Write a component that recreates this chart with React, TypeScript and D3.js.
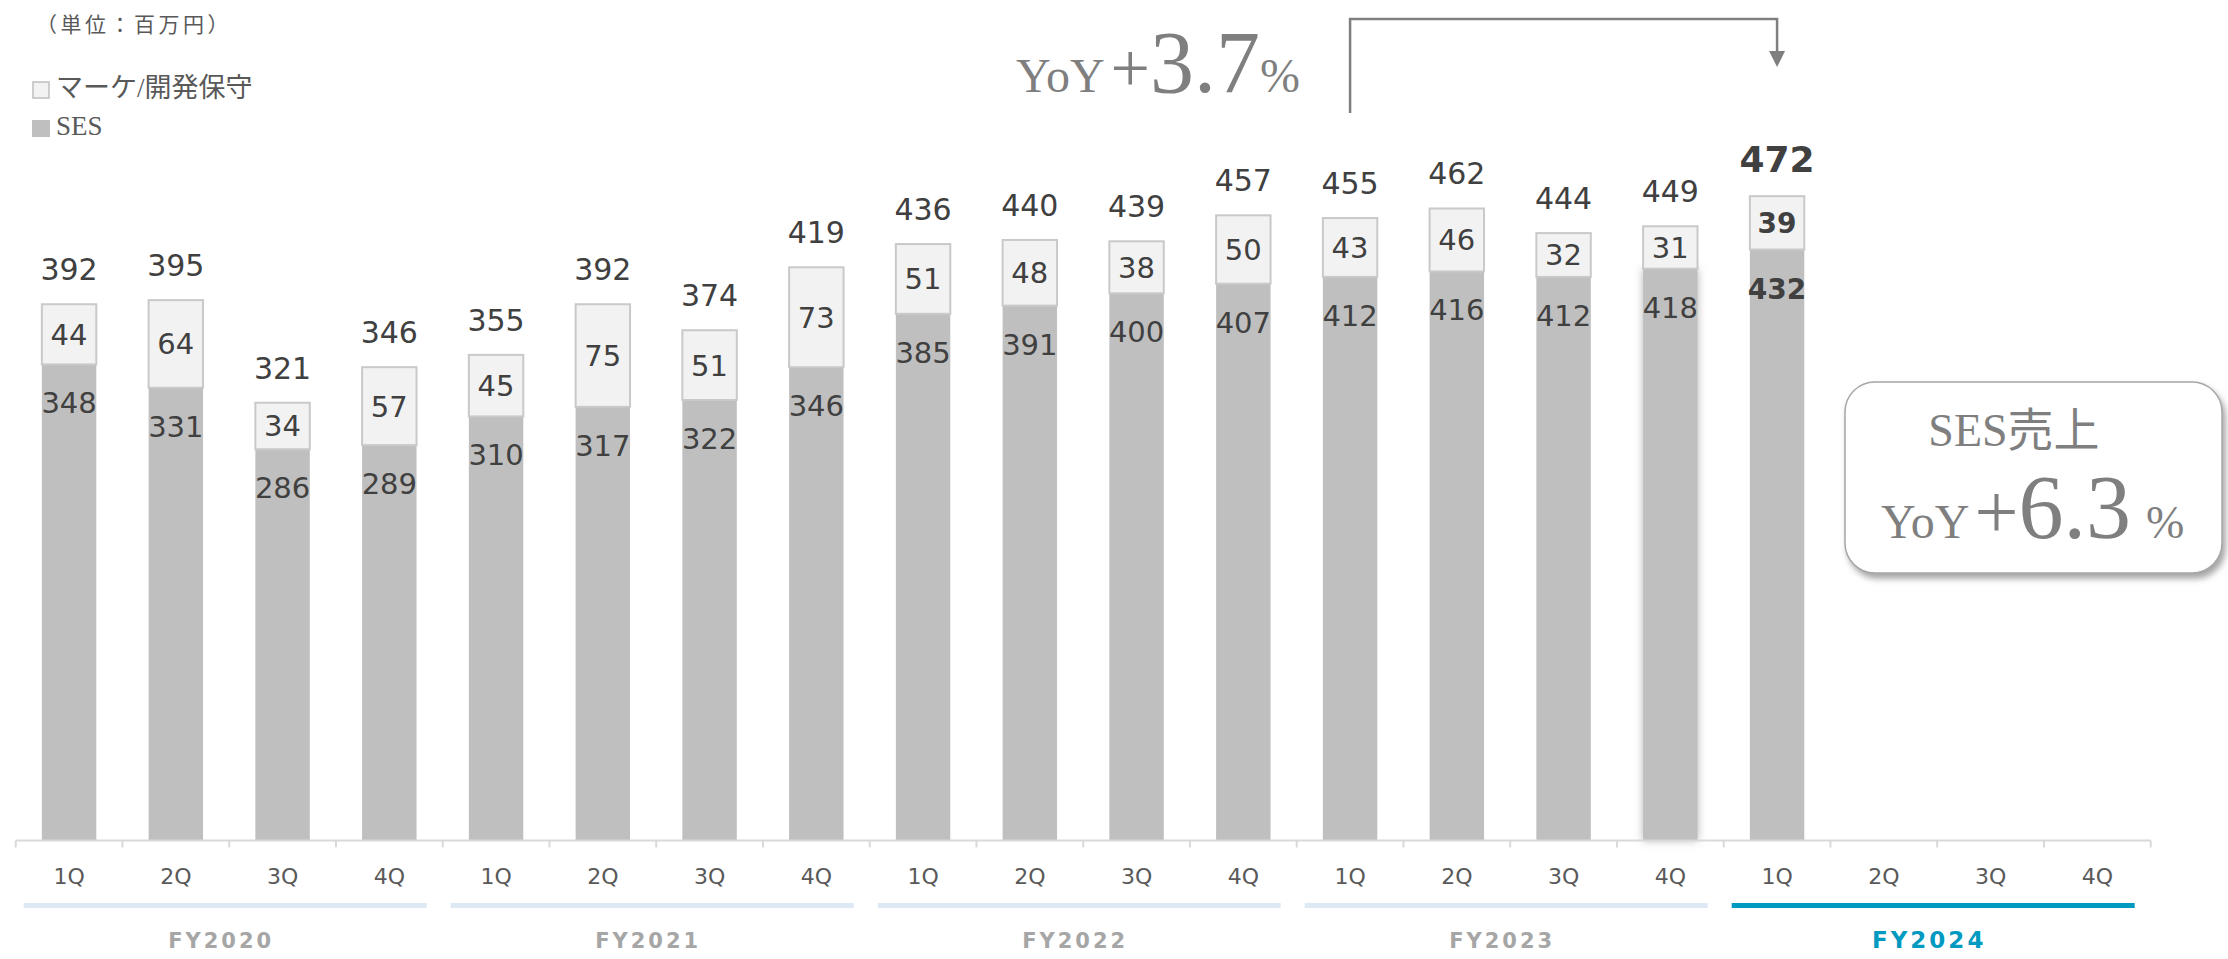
import React from "react";
import * as d3 from "d3";

const W = 2228;
const H = 959;

const years = ["FY2020", "FY2021", "FY2022", "FY2023", "FY2024"];
const quarters = ["1Q", "2Q", "3Q", "4Q"];
const sesValues: (number | null)[] = [348, 331, 286, 289, 310, 317, 322, 346, 385, 391, 400, 407, 412, 416, 412, 418, 432, null, null, null];
const otherValues: (number | null)[] = [44, 64, 34, 57, 45, 75, 51, 73, 51, 48, 38, 50, 43, 46, 32, 31, 39, null, null, null];
const totalLabels: (number | null)[] = [392, 395, 321, 346, 355, 392, 374, 419, 436, 440, 439, 457, 455, 462, 444, 449, 472, null, null, null];
const legendLabels = ["マーケ/開発保守", "SES"];
const unitLabel = "（単位：百万円）";
const yoyTotal = "3.7";
const yoySes = "6.3";

const categories = years.flatMap((y) => quarters.map((q) => `${y}-${q}`));
const highlightIndex = 16;
const glowIndex = 15;

const NUM_FONT = "'DejaVu Sans', Verdana, sans-serif";
const SERIF = "'Liberation Serif', 'Times New Roman', 'Noto Sans CJK JP', serif";
const TXT = "#404040";

export default function App() {
  const x0 = 15.7;
  const x1 = 2150.7;
  const baseY = 840.5;
  const x = d3.scaleBand<string>().domain(categories).range([x0, x1]).paddingInner(0.49).paddingOuter(0.245);
  const step = x.step();
  const y = d3.scaleLinear().domain([0, 600]).range([baseY, baseY - 600 * 1.368]);
  const cx = (i: number) => (x(categories[i]) as number) + x.bandwidth() / 2;

  const bracketL = cx(12);
  const bracketR = cx(16);

  return (
    <svg width={W} height={H} style={{ position: "absolute", left: 0, top: 0, background: "#fff" }}>
      <defs>
        <filter id="glow" x="-40%" y="-10%" width="180%" height="120%">
          <feDropShadow dx="0" dy="0" stdDeviation="4" floodColor="#808080" floodOpacity="0.6" />
        </filter>
        <filter id="boxShadow" x="-10%" y="-10%" width="130%" height="130%">
          <feDropShadow dx="3" dy="5" stdDeviation="3" floodColor="#7f7f7f" floodOpacity="0.7" />
        </filter>
      </defs>

      {/* unit label */}
      <text x={36} y={32} fontFamily="'Noto Sans CJK JP', sans-serif" fontSize={21} letterSpacing={3.5} fill="#595959">{unitLabel}</text>

      {/* legend */}
      <rect x={33} y={82} width={16} height={16} fill="#f2f2f2" stroke="#bfbfbf" strokeWidth={1.5} />
      <text x={56} y={97} fontFamily={SERIF} fontSize={27} fill="#595959">{legendLabels[0]}</text>
      <rect x={32} y={120} width={18} height={17} fill="#bfbfbf" />
      <text x={56} y={135} fontFamily={SERIF} fontSize={27} fill="#595959">{legendLabels[1]}</text>

      {/* bars */}
      {categories.map((c, i) => {
        const s = sesValues[i];
        const o = otherValues[i];
        if (s == null || o == null) return null;
        const bx = x(c) as number;
        const bw = x.bandwidth();
        const sesTop = y(s);
        const top = y(s + o);
        const bold = i === highlightIndex;
        return (
          <g key={c}>
            <rect x={bx} y={sesTop} width={bw} height={baseY - sesTop} fill="#bfbfbf" filter={i === glowIndex ? "url(#glow)" : undefined} />
            <rect x={bx} y={top} width={bw} height={sesTop - top} fill="#f2f2f2" stroke="#c9c9c9" strokeWidth={2} />
            <text x={cx(i)} y={(top + sesTop) / 2 + 10.5} textAnchor="middle" fontFamily={NUM_FONT} fontSize={bold ? 28 : 29} fontWeight={bold ? "bold" : "normal"} fill={TXT}>{o}</text>
            <text x={cx(i)} y={sesTop + 49} textAnchor="middle" fontFamily={NUM_FONT} fontSize={bold ? 28 : 29} fontWeight={bold ? "bold" : "normal"} fill={TXT}>{s}</text>
            <text x={cx(i)} y={top - 24} textAnchor="middle" fontFamily={NUM_FONT} fontSize={bold ? 36 : 30} fontWeight={bold ? "bold" : "normal"} fill={TXT}>{totalLabels[i]}</text>
          </g>
        );
      })}

      {/* axis */}
      <line x1={x0} x2={x1} y1={baseY} y2={baseY} stroke="#d9d9d9" strokeWidth={2} />
      {d3.range(categories.length + 1).map((i) => (
        <line key={"t" + i} x1={x0 + i * step} x2={x0 + i * step} y1={baseY} y2={baseY + 7} stroke="#d9d9d9" strokeWidth={2} />
      ))}
      {categories.map((c, i) => (
        <text key={"l" + c} x={cx(i)} y={884} textAnchor="middle" fontFamily={NUM_FONT} fontSize={22} fill="#595959">{quarters[i % 4]}</text>
      ))}

      {/* year groups */}
      {years.map((yr, j) => {
        const gs = x0 + j * 4 * step;
        const ge = gs + 4 * step;
        const current = j === years.length - 1;
        return (
          <g key={yr}>
            <rect x={gs + 8} y={903} width={ge - gs - 24} height={5} fill={current ? "#0099c0" : "#dde9f5"} />
            <text x={(gs + ge) / 2 - 8} y={948} textAnchor="middle" fontFamily={NUM_FONT} fontSize={current ? 23 : 21} fontWeight="bold" letterSpacing={3} fill={current ? "#0099c0" : "#a6a6a6"}>{yr}</text>
          </g>
        );
      })}

      {/* YoY bracket */}
      <path d={`M${bracketL},113 L${bracketL},19 L${bracketR},19 L${bracketR},53`} fill="none" stroke="#7f7f7f" strokeWidth={2.5} />
      <path d={`M${bracketR - 8},51 L${bracketR + 8},51 L${bracketR},67 Z`} fill="#7f7f7f" />
      <text x={bracketL - 50} y={92} textAnchor="end" fontFamily={SERIF} fill="#7f7f7f">
        <tspan fontSize={48}>YoY</tspan>
        <tspan fontSize={70} dx={6}>+</tspan>
        <tspan fontSize={88}>{yoyTotal}</tspan>
        <tspan fontSize={48}>%</tspan>
      </text>

      {/* SES box */}
      <rect x={1845} y={382} width={377} height={191} rx={30} ry={30} fill="#fff" stroke="#a6a6a6" strokeWidth={1.5} filter="url(#boxShadow)" />
      <text x={2014} y={446} textAnchor="middle" fontFamily={SERIF} fontSize={46} fill="#7f7f7f">SES売上</text>
      <text x={1881} y={538} fontFamily={SERIF} fill="#7f7f7f">
        <tspan fontSize={48}>YoY</tspan>
        <tspan fontSize={78} dx={5}>+</tspan>
        <tspan fontSize={90}>{yoySes}</tspan>
        <tspan fontSize={46} dx={15}>%</tspan>
      </text>
    </svg>
  );
}
